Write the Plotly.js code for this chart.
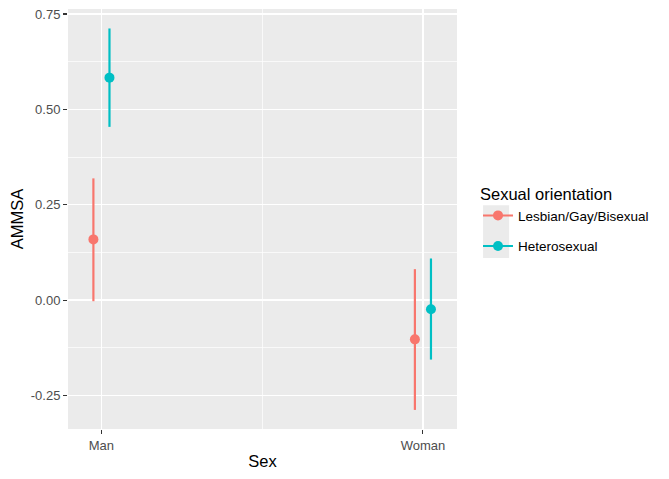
<!DOCTYPE html>
<html>
<head>
<meta charset="utf-8">
<script src="https://cdn.plot.ly/plotly-3.0.1.min.js"></script>
<style>
  html, body { margin: 0; padding: 0; background: #fff; }
  #chart { width: 669px; height: 479px; }
</style>
</head>
<body>
<div id="chart"></div>
<script>
document.addEventListener('DOMContentLoaded', function () {
    var sexLabels = ['Man', 'Woman'];
    var sexPos = [1, 2];
    var dodge = 0.025;

    var yTickVals = [-0.25, 0, 0.25, 0.5, 0.75];
    var yTickText = ['-0.25', '0.00', '0.25', '0.50', '0.75'];

    var lgbMean = [0.159, -0.103];
    var lgbLow = [-0.003, -0.288];
    var lgbHigh = [0.319, 0.081];

    var hetMean = [0.583, -0.024];
    var hetLow = [0.454, -0.156];
    var hetHigh = [0.712, 0.109];

    // null between the two points keeps the legend line without joining them
    function makeTrace(name, color, offset, mean, low, high) {
        var x = [sexPos[0] + offset, null, sexPos[1] + offset];
        var y = [mean[0], null, mean[1]];
        return {
            x: x,
            y: y,
            name: name,
            legendgroup: name,
            type: 'scatter',
            mode: 'lines+markers',
            connectgaps: false,
            line: { color: color, width: 2 },
            marker: { color: color, size: 10 },
            error_y: {
                type: 'data',
                symmetric: false,
                array: [high[0] - mean[0], 0, high[1] - mean[1]],
                arrayminus: [mean[0] - low[0], 0, mean[1] - low[1]],
                color: color,
                thickness: 2.2,
                width: 0
            },
            hoverinfo: 'x+y'
        };
    }

    var data = [
        makeTrace('Lesbian/Gay/Bisexual', '#F8766D', -dodge, lgbMean, lgbLow, lgbHigh),
        makeTrace('Heterosexual', '#00BFC4', dodge, hetMean, hetLow, hetHigh)
    ];

    var layout = {
        width: 669,
        height: 479,
        margin: { l: 68, r: 212, t: 9, b: 50 },
        paper_bgcolor: '#ffffff',
        plot_bgcolor: '#EBEBEB',
        font: { family: 'Liberation Sans, Arial, sans-serif', color: '#000000' },
        showlegend: true,
        xaxis: {
            range: [0.896, 2.106],
            tickvals: sexPos,
            ticktext: sexLabels,
            ticks: 'outside',
            ticklen: 4,
            tickwidth: 1.1,
            tickcolor: '#333333',
            tickfont: { size: 13, color: '#4D4D4D' },
            gridcolor: '#ffffff',
            gridwidth: 1.5,
            minor: { tickvals: [1.5], gridcolor: '#ffffff', gridwidth: 0.7, ticklen: 0 },
            zeroline: false,
            showline: false,
            title: { text: 'Sex', font: { size: 16.5 }, standoff: 3 }
        },
        yaxis: {
            range: [-0.338, 0.763],
            tickvals: yTickVals,
            ticktext: yTickText,
            ticks: 'outside',
            ticklen: 4,
            tickwidth: 1.1,
            tickcolor: '#333333',
            tickfont: { size: 13, color: '#4D4D4D' },
            gridcolor: '#ffffff',
            gridwidth: 1.5,
            minor: { tick0: 0.125, dtick: 0.125, gridcolor: '#ffffff', gridwidth: 0.7, ticklen: 0 },
            zeroline: false,
            showline: false,
            title: { text: 'AMMSA', font: { size: 16.5 }, standoff: 2 }
        },
        legend: {
            x: 1.054,
            y: 0.596,
            xanchor: 'left',
            yanchor: 'top',
            bgcolor: 'rgba(0,0,0,0)',
            font: { size: 13.5, color: '#000000' },
            title: { text: 'Sexual orientation', font: { size: 16.5 } },
            itemwidth: 30,
            tracegroupgap: 10
        },
        shapes: [{
            type: 'rect',
            xref: 'paper',
            yref: 'paper',
            x0: 1.067, x1: 1.134,
            y0: 0.407, y1: 0.533,
            fillcolor: '#EBEBEB',
            line: { width: 0 },
            layer: 'below'
        }]
    };

    Plotly.newPlot('chart', data, layout, { displayModeBar: false, staticPlot: true });
});
</script>
</body>
</html>
